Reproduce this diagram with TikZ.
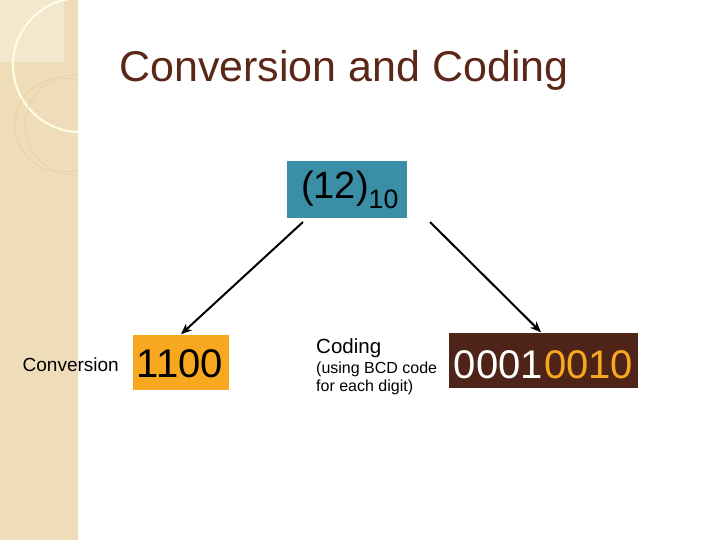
\documentclass[tikz,border=0pt]{standalone}
\usepackage{fontspec}
\setmainfont{Liberation Sans}
\usetikzlibrary{arrows.meta}
\definecolor{strip}{HTML}{EEDDB8}
\definecolor{titlec}{HTML}{5A2718}
\definecolor{teal}{HTML}{3A8FA6}
\definecolor{gold}{HTML}{F8A81E}
\definecolor{brownbox}{HTML}{4E2418}
\tikzset{arr/.style={-{Stealth[length=11pt,width=9pt]},line width=2pt},
 num/.style={inner sep=0pt,font=\fontsize{40}{40}\selectfont}}
\begin{document}
\begin{tikzpicture}[x=1pt,y=-1pt]
\useasboundingbox (0,0) rectangle (720,540);
\fill[white] (0,0) rectangle (720,540);
\fill[strip] (0,0) rectangle (78,540);
\begin{scope}
\clip (0,0) rectangle (78,540);
\fill[white,opacity=0.3] (0,0) rectangle (64,62);
\draw[white!90!yellow,line width=2pt] (80,65) circle (67);
\draw[strip!80!brown,line width=0.5pt] (62,125) circle (47);
\draw[strip!80!brown,line width=0.5pt] (75,125) circle (50);
\end{scope}
\node[text=titlec,font=\fontsize{43}{43}\selectfont] (title) at (344,70) {Conversion and Coding};
\node[fill=teal,minimum width=120,minimum height=57,inner sep=0pt] (src) at (347,190) {};
\node[font=\fontsize{38}{38}\selectfont] (srct) at (350,190) {(12)\textsubscript{10}};
\node[fill=gold,minimum width=96,minimum height=55,inner sep=0pt] (bin) at (181,362) {};
\node[num] (bint) at (180,364) {1100};
\node[fill=brownbox,minimum width=189,minimum height=55,inner sep=0pt] (bcd) at (543,360) {};
\node[num,anchor=base east,text=white] (bcda) at (543,378) {0001};
\node[num,anchor=base west,text=gold] (bcdb) at (544,378) {0010};
\node[anchor=east,font=\fontsize{19}{19}\selectfont,inner sep=0pt] (conv) at (119,365) {Conversion};
\node[anchor=west,font=\fontsize{20.5}{20.5}\selectfont,inner sep=0pt] (cod) at (316,348) {Coding};
\node[anchor=north west,align=left,font=\fontsize{16}{18}\selectfont,inner sep=0pt] (using) at (316,362) {(using BCD code\\for each digit)};
\coordinate (s1) at (303,222);
\coordinate (s2) at (430,222);
\draw[arr] (s1) -- (bin.north);
\draw[arr] (s2) -- ([xshift=-2pt]bcd.north);
\end{tikzpicture}
\end{document}
